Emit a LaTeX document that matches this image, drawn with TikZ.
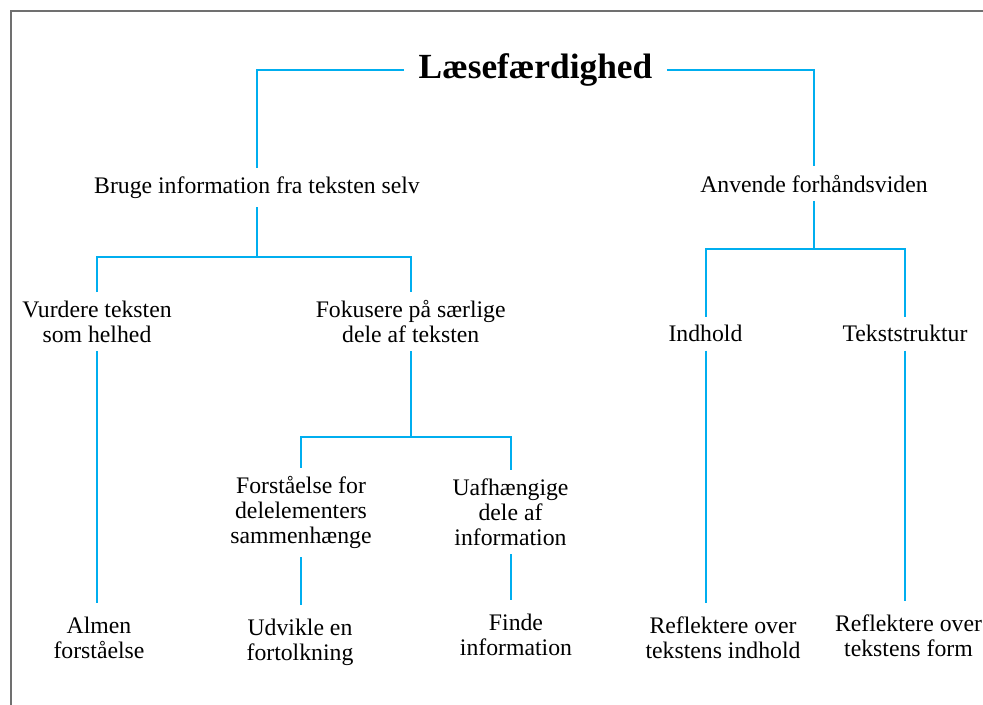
\documentclass[tikz,border=0pt]{standalone}
\usepackage{fontspec}
\setmainfont{Liberation Serif}
\definecolor{treeblue}{HTML}{00AEEF}
\definecolor{framegray}{HTML}{707070}
\tikzset{every picture/.style={line width=0.75pt}}
\tikzset{
  lbl/.style={font=\fontsize{17.8}{18.75}\selectfont, align=center, inner sep=0pt, outer ysep=6.5pt},
  leaf/.style={lbl, outer ysep=10.5pt},
  branch/.style={draw=treeblue, line width=1.5pt}
}

\begin{document}
\begin{tikzpicture}[x=0.75pt,y=0.75pt,yscale=-1,xscale=1]
\useasboundingbox (0,0) rectangle (983,705);

%Frame
\draw [framegray, line width=1.1pt] (11,705) -- (11,11) -- (983,11) ;

% Text Node
\node (title) at (535.5,70) [font=\bfseries\fontsize{26.5}{30}\selectfont, inner xsep=10.5pt, inner ysep=0pt, text height=18pt, text depth=5.6pt] {Læsefærdighed};
% Text Node
\node (bruge) at (257,187.5) [lbl] {Bruge information fra teksten selv};
% Text Node
\node (anvende) at (814,183.6) [lbl] {Anvende forhåndsviden};
% Text Node
\node (vurdere) at (97,321.6) [lbl] {Vurdere teksten\\som helhed};
% Text Node
\node (fokusere) at (410.7,321.6) [lbl] {Fokusere på særlige\\dele af teksten};
% Text Node
\node (indhold) at (705.5,333.6) [lbl] {Indhold};
% Text Node
\node (struktur) at (905,333.6) [lbl] {Tekststruktur};
% Text Node
\node (delelem) at (301,512.5) [lbl] {Forståelse for\\delelementers\\sammenhænge};
% Text Node
\node (uafh) at (510.5,512) [lbl] {Uafhængige\\dele af\\information};
% Text Node
\node (almen) at (99,638) [leaf] {Almen\\forståelse};
% Text Node
\node (udvikle) at (300,642) [leaf] {Udvikle en\\fortolkning};
% Text Node
\node (finde) at (516,635.3) [leaf] {Finde\\information};
% Text Node
\node (reflind) at (723,637.5) [leaf] {Reflektere over\\tekstens indhold};
% Text Node
\node (refform) at (908.5,636) [leaf] {Reflektere over\\tekstens form};

%Forks
\coordinate (forkbruge) at (257,257);
\coordinate (forkfok) at (410.7,437.3);
\coordinate (forkanv) at (814,249);

%Straight Lines
\draw [branch] (title.west) -| (bruge.north) ;
\draw [branch] (title.east) -| (anvende.north) ;
\draw [branch] (bruge.south) -- (forkbruge) ;
\draw [branch] (vurdere.north) |- (forkbruge) -| (fokusere.north) ;
\draw [branch] (fokusere.south) -- (forkfok) ;
\draw [branch] (delelem.north) |- (forkfok) -| (uafh.north) ;
\draw [branch] (anvende.south) -- (forkanv) ;
\draw [branch] (indhold.north) |- (forkanv) -| (struktur.north) ;
\draw [branch] (vurdere.south) -- (vurdere.south |- almen.north) ;
\draw [branch] (delelem.south) -- (delelem.south |- udvikle.north) ;
\draw [branch] (uafh.south) -- (uafh.south |- finde.north) ;
\draw [branch] (indhold.south) -- (indhold.south |- reflind.north) ;
\draw [branch] (struktur.south) -- (struktur.south |- refform.north) ;

\end{tikzpicture}
\end{document}
